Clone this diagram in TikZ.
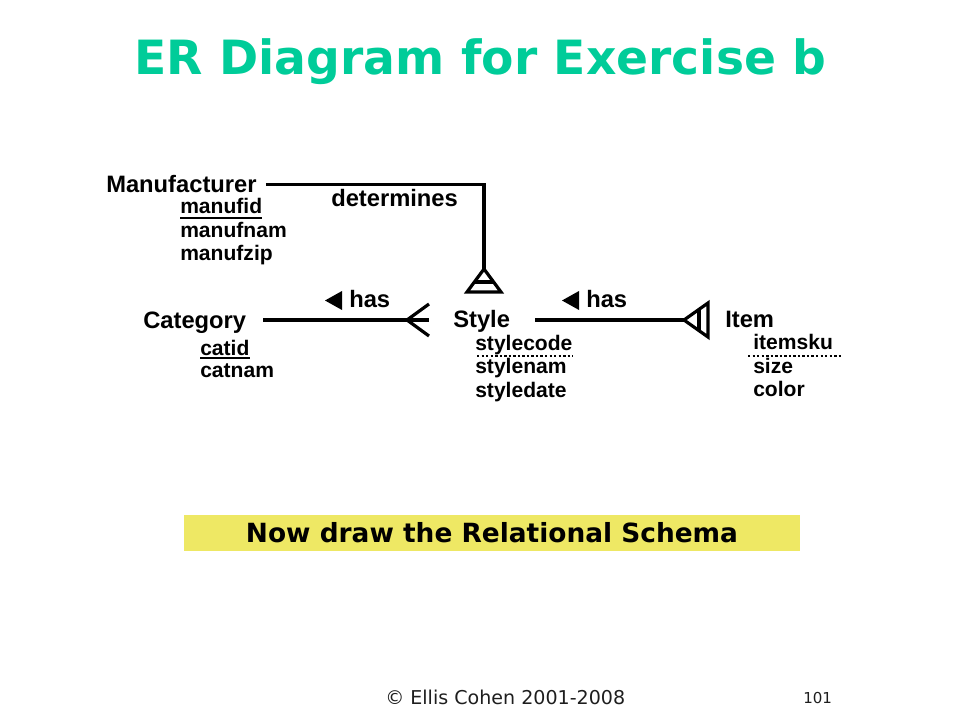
\documentclass[tikz,border=0pt]{standalone}
\usepackage{fontspec}
\setmainfont{Liberation Sans}
\newfontfamily\dejavu{DejaVu Sans}
\definecolor{titlegreen}{RGB}{0,204,153}
\definecolor{schemayellow}{RGB}{238,232,100}
\definecolor{footgray}{RGB}{30,30,30}
\begin{document}
\begin{tikzpicture}[x=0.75pt,y=-0.75pt,
  ent/.style={anchor=base west,inner sep=0pt,font=\fontsize{17.8}{20}\selectfont\bfseries},
  attr/.style={anchor=base west,inner sep=0pt,font=\fontsize{15.8}{18}\selectfont\bfseries},
  rel/.style={line width=2.4pt},
  keyline/.style={line width=1.5pt},
  partkey/.style={line width=1.8pt,dash pattern=on 1.8pt off 1.6pt},
  marker/.style={fill=black}]
\useasboundingbox (0,0) rectangle (960,720);
% title
\node[anchor=base,inner sep=0pt,text=titlegreen,font=\dejavu\fontsize{35.4}{40}\selectfont\bfseries] (title) at (480.5,75) {ER Diagram for Exercise b};
% entities
\node[ent] (manu) at (106,193) {Manufacturer};
\node[attr] (manufid) at (180,214) {manufid};
\node[attr] (manufnam) at (180,237.5) {manufnam};
\node[attr] (manufzip) at (180,260.5) {manufzip};
\node[ent] (cat) at (143,328) {Category};
\node[attr] (catid) at (200,355) {catid};
\node[attr] (catnam) at (200,377) {catnam};
\node[ent] (style) at (453,327) {Style};
\node[attr] (stylecode) at (475,350) {stylecode};
\node[attr] (stylenam) at (475,373.5) {stylenam};
\node[attr] (styledate) at (475,397) {styledate};
\node[ent] (item) at (725,327) {Item};
\node[attr] (itemsku) at (753,349.5) {itemsku};
\node[attr] (size) at (753,373) {size};
\node[attr] (color) at (753,396) {color};
% relationship labels
\node[ent] (determines) at (331,207) {determines};
\node[ent] (hasL) at (349,307) {has};
\node[ent] (hasR) at (586,307) {has};
\fill[marker] (342,291) -- (342,310) -- (325,300.5) -- cycle;
\fill[marker] (579,291) -- (579,310) -- (562,300.5) -- cycle;
% key underlines
\draw[keyline] ([yshift=-3pt]manufid.base west) -- ([yshift=-3pt]manufid.base east);
\draw[keyline] ([yshift=-2.6pt]catid.base west) -- ([yshift=-2.6pt]catid.base east);
\draw[partkey] ([xshift=1.5pt,yshift=-4.5pt]stylecode.base west) -- ([xshift=0.5pt,yshift=-4.5pt]stylecode.base east);
\draw[partkey] ([xshift=-3.75pt,yshift=-4.9pt]itemsku.base west) -- ([xshift=6pt,yshift=-4.9pt]itemsku.base east);
% connector ends
\coordinate (dettip) at (484,269);
\coordinate (catR) at (263,320);
\coordinate (crowtoe) at (429,320);
\coordinate (styR) at (535,320);
\coordinate (itemtip) at (684,320);
% determines: Manufacturer -> Style
\draw[rel] ([xshift=6.75pt]manu.east) -| (dettip);
\draw[rel] (dettip) -- (501,292) -- (467,292) -- cycle;
\draw[rel] (475,282) -- (493,282);
% has: Category -- Style (crow's foot at Style)
\draw[rel] (catR) -- (crowtoe);
\draw[rel] (429,304) -- (407,320) -- (429,336);
% has: Style -- Item
\draw[rel] (styR) -- (itemtip);
\draw[rel] (itemtip) -- (708,303) -- (708,337) -- cycle;
\draw[rel] (699,310) -- (699,330);
% schema box
\node[fill=schemayellow,inner sep=0pt,minimum width=462pt,minimum height=27pt,font=\dejavu\fontsize{19.8}{22}\selectfont\bfseries] (schema) at (492,533) {Now draw the Relational Schema};
% footer
\node[anchor=base west,inner sep=0pt,text=footgray,font=\dejavu\fontsize{14.3}{16}\selectfont] (copy) at (385,704) {© Ellis Cohen 2001-2008};
\node[anchor=base west,inner sep=0pt,text=footgray,font=\dejavu\fontsize{11.3}{13}\selectfont] (page) at (803,703) {101};
\end{tikzpicture}
\end{document}
